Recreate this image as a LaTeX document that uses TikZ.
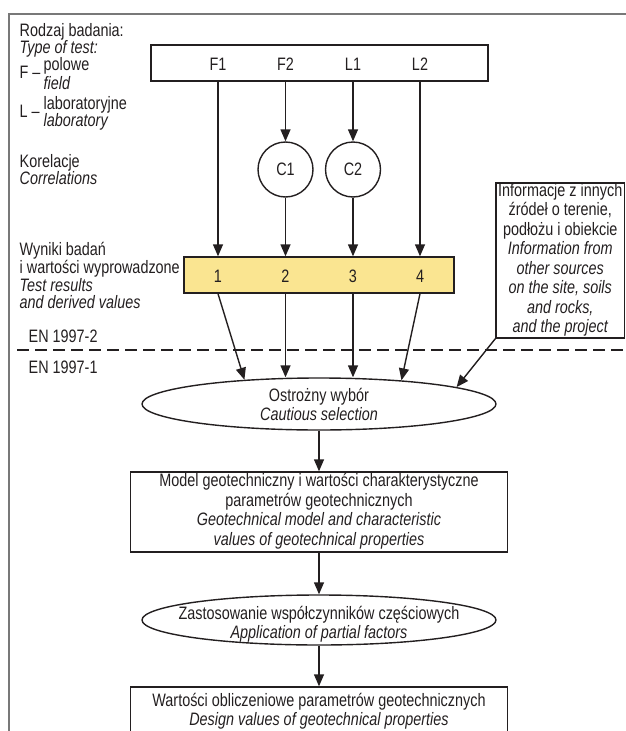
\documentclass[tikz,border=0pt]{standalone}
\usepackage{fontspec}
\setmainfont{Liberation Sans}[FakeStretch=0.80]
\usetikzlibrary{arrows.meta,shapes.geometric}
\definecolor{ink}{RGB}{35,31,32}
\definecolor{framegray}{RGB}{120,120,120}
\definecolor{yel}{RGB}{250,229,145}
\newcommand\fs{\fontsize{18}{18}\selectfont}
\newcommand\itl{\strut\itshape}
\begin{document}
\begin{tikzpicture}[x=1pt,y=-1pt,line width=1.4pt,color=ink,
  txt/.style={font=\fs,inner sep=0pt,text=ink},
  lbl/.style={txt,anchor=base west},
  col/.style={txt,anchor=base},
  box/.style={draw=ink,rectangle,inner sep=0pt,font=\fs,align=center,text=ink},
  oval/.style={draw=ink,ellipse,inner sep=0pt,minimum width=354pt,minimum height=52pt},
  corr/.style={draw=ink,circle,inner sep=0pt,minimum size=55pt,font=\fs,text=ink},
  arr/.style={-{Triangle[length=12pt,width=10pt]}}]
\useasboundingbox (0,0) rectangle (626,731);
\clip (0,0) rectangle (626,731);
% frame
\draw[framegray,line width=1.3pt] (9,745) -- (9,14) -- (640,14);
% legend
\node[lbl] (lg1) at (19,36) {Rodzaj badania:};
\node[lbl] (lg2) at (19,53) {\itshape Type of test:};
\node[lbl] (lgF) at (19,78) {F –};
\node[lbl] (lgF1) at (43,70.7) {polowe};
\node[lbl] (lgF2) at (43,89) {\itshape field};
\node[lbl] (lgL) at (19,117) {L –};
\node[lbl] (lgL1) at (43,109.5) {laboratoryjne};
\node[lbl] (lgL2) at (43,126) {\itshape laboratory};
\node[lbl] (lgK1) at (19,167) {Korelacje};
\node[lbl] (lgK2) at (19,184.3) {\itshape Correlations};
\node[lbl] (lgW1) at (19,255) {Wyniki badań};
\node[lbl] (lgW2) at (19,273) {i wartości wyprowadzone};
\node[lbl] (lgW3) at (19,291) {\itshape Test results};
\node[lbl] (lgW4) at (19,308) {\itshape and derived values};
\node[lbl] (en2) at (28,342) {EN 1997-2};
\node[lbl] (en1) at (28,373) {EN 1997-1};
% top box
\node[box,minimum width=337pt,minimum height=36pt] (tb) at (319.5,63) {};
\node[col] (f1) at (218,70) {F1};
\node[col] (f2) at (285.5,70) {F2};
\node[col] (l1) at (353,70) {L1};
\node[col] (l2) at (420,70) {L2};
% correlations
\node[corr] (c1) at (285.5,169.5) {C1};
\node[corr] (c2) at (353,169.5) {C2};
% results box
\node[box,fill=yel,minimum width=270pt,minimum height=36pt] (yb) at (319,275) {};
\node[col] (n1) at (218,282) {1};
\node[col] (n2) at (285.5,282) {2};
\node[col] (n3) at (353,282) {3};
\node[col] (n4) at (420,282) {4};
% info box
\node[box,minimum width=128.5pt,minimum height=155pt] (info) at (560.25,260.5)
 {\strut Informacje z innych\\\strut źródeł o terenie,\\\strut podłożu i obiekcie\\
  \itl Information from\\\itl other sources\\\itl on the site, soils\\
  \itl and rocks,\\\itl and the project};
% dashed separator
\coordinate (dl) at (17,350);
\coordinate (dr) at (640,350);
\draw[line width=2pt,dash pattern=on 12pt off 6pt] (dl) -- (dr);
% cautious selection
\node[oval] (sel) at (319,404) {};
\node[txt,align=center] (selt) at (319,407.1) {\strut Ostrożny wybór\\\itl Cautious selection};
% model box
\node[box,minimum width=377pt,minimum height=80pt] (mod) at (319,512)
 {\strut Model geotechniczny i wartości charakterystyczne\\\strut parametrów geotechnicznych\\
  \itl Geotechnical model and characteristic\\\itl values of geotechnical properties};
% partial factors
\node[oval,minimum height=50pt] (apf) at (319,620) {};
\node[txt,align=center] (apft) at (319,624.9) {\strut Zastosowanie współczynników częściowych\\\itl Application of partial factors};
% design values
\node[box,minimum width=377pt,minimum height=50pt] (des) at (319,712)
 {\strut Wartości obliczeniowe parametrów geotechnicznych\\\itl Design values of geotechnical properties};
% connectors
\draw[arr] (f1 |- tb.south) -- (f1 |- yb.north);
\draw[arr] (f2 |- tb.south) -- (c1.north);
\draw[arr] (c1.south) -- (c1 |- yb.north);
\draw[arr] (l1 |- tb.south) -- (c2.north);
\draw[arr] (c2.south) -- (c2 |- yb.north);
\draw[arr] (l2 |- tb.south) -- (l2 |- yb.north);
\draw[arr] (n1 |- yb.south) -- (sel.162.3);
\draw[arr] (n2 |- yb.south) -- (n2 |- sel.north);
\draw[arr] (n3 |- yb.south) -- (n3 |- sel.north);
\draw[arr] (n4 |- yb.south) -- (sel.16.9);
\draw[arr] (info.south west) -- (sel.7);
\draw[arr] (sel.south) -- (mod.north);
\draw[arr] (mod.south) -- (apf.north);
\draw[arr] (apf.south) -- (des.north);
\end{tikzpicture}
\end{document}
